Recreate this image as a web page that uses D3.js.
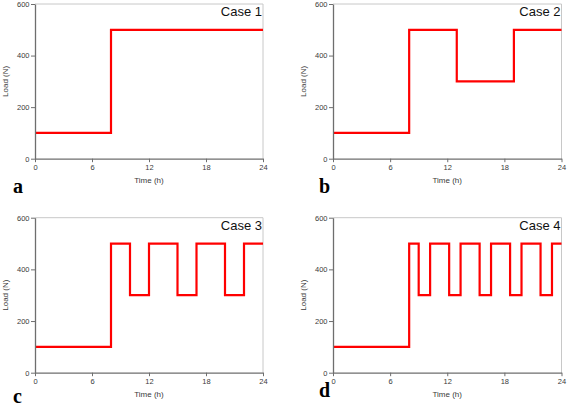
<!DOCTYPE html>
<html>
<head>
<meta charset="utf-8">
<script src="https://cdn.jsdelivr.net/npm/d3@7"></script>
<style>
  html, body { margin: 0; padding: 0; background: #fff; }
  svg { display: block; }
</style>
</head>
<body>
<svg id="chart" width="567" height="406"></svg>
<script>
// ---- data ----
const timeTicks = [0, 6, 12, 18, 24];
const loadTicks = [0, 200, 400, 600];
const caseNames = ["Case 1", "Case 2", "Case 3", "Case 4"];
const panelLetters = ["a", "b", "c", "d"];

const case1Times = [0, 8, 24];
const case1Loads = [100, 500, 500];
const case2Times = [0, 8, 13, 19, 24];
const case2Loads = [100, 500, 300, 500, 500];
const case3Times = [0, 8, 10, 12, 15, 17, 20, 22, 24];
const case3Loads = [100, 500, 300, 500, 300, 500, 300, 500, 500];
const case4Times = [0, 8, 9, 10.2, 12.2, 13.4, 15.4, 16.6, 18.6, 19.8, 21.8, 23, 24];
const case4Loads = [100, 500, 300, 500, 300, 500, 300, 500, 300, 500, 300, 500, 500];

const allTimes = [case1Times, case2Times, case3Times, case4Times];
const allLoads = [case1Loads, case2Loads, case3Loads, case4Loads];

// ---- layout ----
const panels = [
  { x0: 35,  x1: 263,   y0: 4,     y1: 158.7, letterX: 13,  letterY: 193 },
  { x0: 333, x1: 561.5, y0: 4,     y1: 158.7, letterX: 319, letterY: 193 },
  { x0: 35,  x1: 263,   y0: 217.7, y1: 372.7, letterX: 13,  letterY: 403 },
  { x0: 333, x1: 561.5, y0: 217.7, y1: 372.7, letterX: 319, letterY: 397 }
];

const svg = d3.select("#chart");
const axisFont = "Arial, 'Liberation Sans', sans-serif";

panels.forEach((p, i) => {
  const x = d3.scaleLinear().domain([0, 24]).range([p.x0, p.x1]);
  const y = d3.scaleLinear().domain([0, 600]).range([p.y1, p.y0]);
  const g = svg.append("g");

  // frame top & right (light)
  g.append("path")
    .attr("d", `M${p.x0},${p.y0}H${p.x1}V${p.y1}`)
    .attr("fill", "none").attr("stroke", "#c8c8c8").attr("stroke-width", 1);

  // data line
  const pts = allTimes[i].map((t, k) => [t, allLoads[i][k]]);
  const line = d3.line().x(d => x(d[0])).y(d => y(d[1])).curve(d3.curveStepAfter);
  g.append("path")
    .datum(pts)
    .attr("d", line)
    .attr("fill", "none")
    .attr("stroke", "#ff0000")
    .attr("stroke-width", 2.2);

  // axes
  const xAxis = d3.axisBottom(x).tickValues(timeTicks).tickSize(3.5).tickPadding(2).tickSizeOuter(0);
  const yAxis = d3.axisLeft(y).tickValues(loadTicks).tickSize(4).tickPadding(1.5).tickSizeOuter(0);

  const gx = g.append("g").attr("transform", `translate(0,${p.y1})`).call(xAxis);
  const gy = g.append("g").attr("transform", `translate(${p.x0},0)`).call(yAxis);
  [gx, gy].forEach(ax => {
    ax.select(".domain").attr("stroke", "#6e6e6e").attr("stroke-width", 1.3);
    ax.selectAll(".tick line").attr("stroke", "#6e6e6e");
    ax.selectAll(".tick text").attr("fill", "#3a3a3a")
      .style("font-family", axisFont).style("font-size", "7.5px");
  });

  // axis titles
  g.append("text")
    .attr("x", (p.x0 + p.x1) / 2).attr("y", p.y1 + 24)
    .attr("text-anchor", "middle")
    .attr("fill", "#3a3a3a")
    .style("font-family", axisFont).style("font-size", "8px")
    .text("Time (h)");
  g.append("text")
    .attr("transform", `translate(${p.x0 - 27.5},${(p.y0 + p.y1) / 2}) rotate(-90)`)
    .attr("text-anchor", "middle")
    .attr("fill", "#3a3a3a")
    .style("font-family", axisFont).style("font-size", "8px")
    .text("Load (N)");

  // case label
  g.append("text")
    .attr("x", p.x1 - 1).attr("y", p.y0 + 12)
    .attr("text-anchor", "end")
    .attr("fill", "#111")
    .style("font-family", axisFont).style("font-size", "13px")
    .text(caseNames[i]);

  // panel letter
  g.append("text")
    .attr("x", p.letterX).attr("y", p.letterY)
    .attr("fill", "#000")
    .style("font-family", "'Liberation Serif', 'Times New Roman', serif")
    .style("font-weight", "bold").style("font-size", "20px")
    .text(panelLetters[i]);
});
</script>
</body>
</html>
